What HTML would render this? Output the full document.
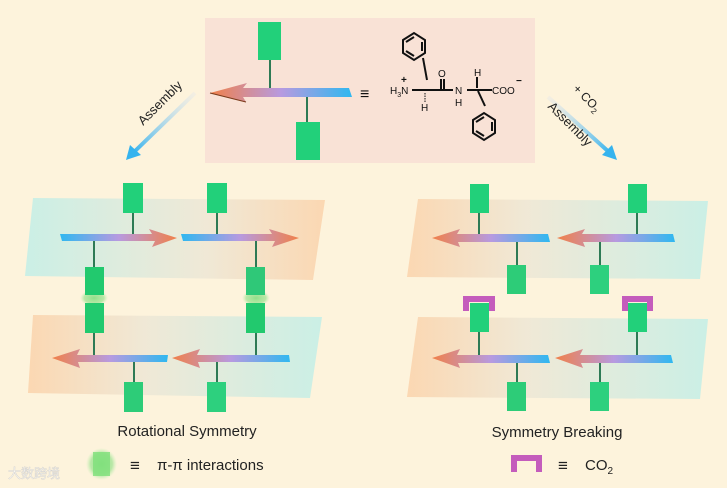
<!DOCTYPE html>
<html><head><meta charset="utf-8"><style>
html,body{margin:0;padding:0;background:#fdf3dc;}
svg{display:block;font-family:"Liberation Sans",Arial,sans-serif;}
</style></head><body>
<svg width="727" height="488" viewBox="0 0 727 488" xmlns="http://www.w3.org/2000/svg">
<defs>
<linearGradient id="aL" x1="0" x2="1"><stop offset="0" stop-color="#f0804a"/><stop offset="0.5" stop-color="#b79ae0"/><stop offset="1" stop-color="#2fb8f0"/></linearGradient>
<linearGradient id="aR" x1="0" x2="1"><stop offset="0" stop-color="#2fb8f0"/><stop offset="0.5" stop-color="#b79ae0"/><stop offset="1" stop-color="#f0804a"/></linearGradient>
<linearGradient id="pCO" x1="0" x2="1"><stop offset="0" stop-color="#c8efe6"/><stop offset="0.6" stop-color="#efe8d6"/><stop offset="1" stop-color="#fbd6b0"/></linearGradient>
<linearGradient id="pOC" x1="0" x2="1"><stop offset="0" stop-color="#fbd6b0"/><stop offset="0.4" stop-color="#efe8d6"/><stop offset="1" stop-color="#c8efe6"/></linearGradient>
<linearGradient id="blue1" x1="1" y1="0" x2="0" y2="1"><stop offset="0" stop-color="#dfe4ee" stop-opacity="0.3"/><stop offset="1" stop-color="#35b3ee"/></linearGradient>
<linearGradient id="blue2" x1="0" y1="0" x2="1" y2="1"><stop offset="0" stop-color="#dfe4ee" stop-opacity="0.3"/><stop offset="1" stop-color="#35b3ee"/></linearGradient>
<radialGradient id="glow"><stop offset="0" stop-color="#8fe08a"/><stop offset="0.7" stop-color="#a8e59a" stop-opacity="0.8"/><stop offset="1" stop-color="#c8f0b8" stop-opacity="0"/></radialGradient>
</defs>
<rect width="727" height="488" fill="#fdf3dc"/>
<rect x="205" y="18" width="330" height="145" fill="#f9e2d6"/>

<!-- top molecule -->
<g stroke="#2e7a55" stroke-width="2"><line x1="270" y1="60" x2="270" y2="89"/><line x1="307" y1="96" x2="307" y2="122"/></g>
<rect x="258" y="22" width="23" height="38" fill="#22d07a"/>
<rect x="296" y="122" width="24" height="38" fill="#22d07a"/>
<polygon points="210,93 247,83 243,88 349,88 352,97 243,97 246,102" fill="url(#aL)"/>
<line x1="210" y1="93" x2="246" y2="102" stroke="#7a3a1a" stroke-width="1"/>
<text x="360" y="99" font-size="16" fill="#111">≡</text>
<g fill="none" stroke="#111" stroke-width="2">
<polygon points="403,40 414,33 425,40 425,53 414,60 403,53"/>
<line x1="406" y1="42" x2="414" y2="37"/><line x1="422" y1="42" x2="422" y2="51"/><line x1="406" y1="51" x2="414" y2="56"/>
<line x1="423" y1="58" x2="427" y2="80"/>
<line x1="412" y1="90" x2="440" y2="90"/><line x1="440" y1="90" x2="453" y2="90"/>
<line x1="441" y1="89" x2="441" y2="79"/><line x1="444" y1="89" x2="444" y2="79"/>
<line x1="467" y1="90" x2="492" y2="90"/>
<line x1="477" y1="88" x2="477" y2="77"/>
<line x1="478" y1="91" x2="485" y2="106"/>
<polygon points="473,120 484,113 495,120 495,133 484,140 473,133"/>
<line x1="476" y1="122" x2="484" y2="117"/><line x1="492" y1="122" x2="492" y2="131"/><line x1="476" y1="131" x2="484" y2="136"/>
</g>
<g stroke="#111" stroke-width="1"><line x1="425" y1="93" x2="425" y2="102" stroke-dasharray="1.5,1"/></g>
<g font-size="10" fill="#111">
<text x="390" y="94">H<tspan font-size="7" dy="3">3</tspan><tspan dy="-3">N</tspan></text>
<text x="401" y="83" font-size="10" font-weight="bold">+</text>
<text x="421" y="111">H</text>
<text x="438" y="77">O</text>
<text x="455" y="94">N</text>
<text x="455" y="106">H</text>
<text x="474" y="76">H</text>
<text x="492" y="94">COO</text>
<text x="516" y="84" font-weight="bold">−</text>
</g>

<!-- assembly arrows -->
<line x1="195" y1="93" x2="133" y2="153" stroke="url(#blue1)" stroke-width="4"/>
<polygon points="126,160 130,145 141,155" fill="#35b3ee"/>
<text transform="translate(163,106) rotate(-45)" font-size="13" text-anchor="middle" fill="#222">Assembly</text>
<line x1="548" y1="97" x2="610" y2="153" stroke="url(#blue2)" stroke-width="4"/>
<polygon points="617,160 602,155 612,145" fill="#35b3ee"/>
<text transform="translate(584,101) rotate(45)" font-size="12" text-anchor="middle" fill="#222">+ CO<tspan font-size="8" dy="3">2</tspan></text>
<text transform="translate(567,127) rotate(45)" font-size="13" text-anchor="middle" fill="#222">Assembly</text>

<!-- LEFT PANEL -->
<polygon points="33,198 325,200 313,280 25,276" fill="url(#pCO)" opacity="0.95"/>
<polygon points="33,315 322,317 310,398 28,393" fill="url(#pOC)" opacity="0.95"/>
<g stroke="#2e7a55" stroke-width="2">
<line x1="133" y1="213" x2="133" y2="235"/><line x1="217" y1="213" x2="217" y2="235"/>
<line x1="94" y1="240" x2="94" y2="267"/><line x1="256" y1="240" x2="256" y2="267"/>
<line x1="94" y1="333" x2="94" y2="355"/><line x1="256" y1="333" x2="256" y2="355"/>
<line x1="134" y1="362" x2="134" y2="382"/><line x1="217" y1="362" x2="217" y2="382"/>
</g>
<rect x="123" y="183" width="20" height="30" fill="#22d07a"/>
<rect x="207" y="183" width="20" height="30" fill="#22d07a"/>
<polygon points="60,234 152,234 149,229 177,238 152,247 155,241 62,241" fill="url(#aR)"/>
<polygon points="181,234 272,234 269,229 299,238 272,247 275,241 183,241" fill="url(#aR)"/>
<ellipse cx="94" cy="298" rx="14" ry="8" fill="url(#glow)"/>
<ellipse cx="256" cy="298" rx="14" ry="8" fill="url(#glow)"/>
<rect x="85" y="267" width="19" height="28" fill="#22c96e"/>
<rect x="85" y="303" width="19" height="30" fill="#22c96e"/>
<rect x="246" y="267" width="19" height="28" fill="#2fc878"/>
<rect x="246" y="303" width="19" height="30" fill="#22c96e"/>
<polygon points="52,358 80,349 77,355 168,355 167,362 78,362 80,368" fill="url(#aL)"/>
<polygon points="172,358 200,349 197,355 289,355 290,362 198,362 200,368" fill="url(#aL)"/>
<rect x="124" y="382" width="19" height="30" fill="#2dcc78"/>
<rect x="207" y="382" width="19" height="30" fill="#2dd07e"/>
<text x="187" y="436" font-size="15" text-anchor="middle" fill="#222">Rotational Symmetry</text>
<rect x="86" y="448" width="31" height="32" rx="6" fill="url(#glow)"/>
<rect x="93" y="452" width="17" height="24" fill="#7ee07a" opacity="0.8"/>
<text x="130" y="471" font-size="17" fill="#222">≡</text>
<text x="157" y="470" font-size="15" fill="#222">π-π interactions</text>
<text x="8" y="478" font-size="13" fill="#ffffff" stroke="#ccc" stroke-width="0.5" opacity="0.8">大数跨境</text>

<!-- RIGHT PANEL -->
<polygon points="418,199 708,201 700,279 407,277" fill="url(#pOC)" opacity="0.95"/>
<polygon points="418,317 708,319 700,399 407,397" fill="url(#pOC)" opacity="0.95"/>
<g stroke="#2e7a55" stroke-width="2">
<line x1="479" y1="213" x2="479" y2="234"/><line x1="637" y1="213" x2="637" y2="234"/>
<line x1="517" y1="242" x2="517" y2="265"/><line x1="600" y1="242" x2="600" y2="265"/>
<line x1="479" y1="332" x2="479" y2="355"/><line x1="637" y1="332" x2="637" y2="355"/>
<line x1="517" y1="362" x2="517" y2="382"/><line x1="600" y1="362" x2="600" y2="382"/>
</g>
<rect x="470" y="184" width="19" height="29" fill="#22d07a"/>
<rect x="628" y="184" width="19" height="29" fill="#22d07a"/>
<polygon points="432,238 460,229 457,234 548,234 550,242 458,242 460,247" fill="url(#aL)"/>
<polygon points="557,238 585,229 582,234 673,234 675,242 583,242 585,247" fill="url(#aL)"/>
<rect x="507" y="265" width="19" height="29" fill="#2dcc78"/>
<rect x="590" y="265" width="19" height="29" fill="#2dd07e"/>
<path d="M463,311 V296 H495 V311 H489 V302 H469 V311 Z" fill="#c45cbc"/>
<path d="M622,311 V296 H653 V311 H647 V302 H628 V311 Z" fill="#c45cbc"/>
<rect x="470" y="303" width="19" height="29" fill="#22d07a"/>
<rect x="628" y="303" width="19" height="29" fill="#22d07a"/>
<polygon points="432,358 460,349 457,355 548,355 550,363 458,363 460,368" fill="url(#aL)"/>
<polygon points="555,358 583,349 580,355 671,355 673,363 581,363 583,368" fill="url(#aL)"/>
<rect x="507" y="382" width="19" height="29" fill="#2dcc78"/>
<rect x="590" y="382" width="19" height="29" fill="#2dd07e"/>
<text x="557" y="437" font-size="15" text-anchor="middle" fill="#222">Symmetry Breaking</text>
<path d="M511,472 V455 H542 V472 H536 V461 H517 V472 Z" fill="#c45cbc"/>
<text x="558" y="471" font-size="17" fill="#222">≡</text>
<text x="585" y="470" font-size="15" fill="#222">CO<tspan font-size="10" dy="4">2</tspan></text>
</svg>
</body></html>
